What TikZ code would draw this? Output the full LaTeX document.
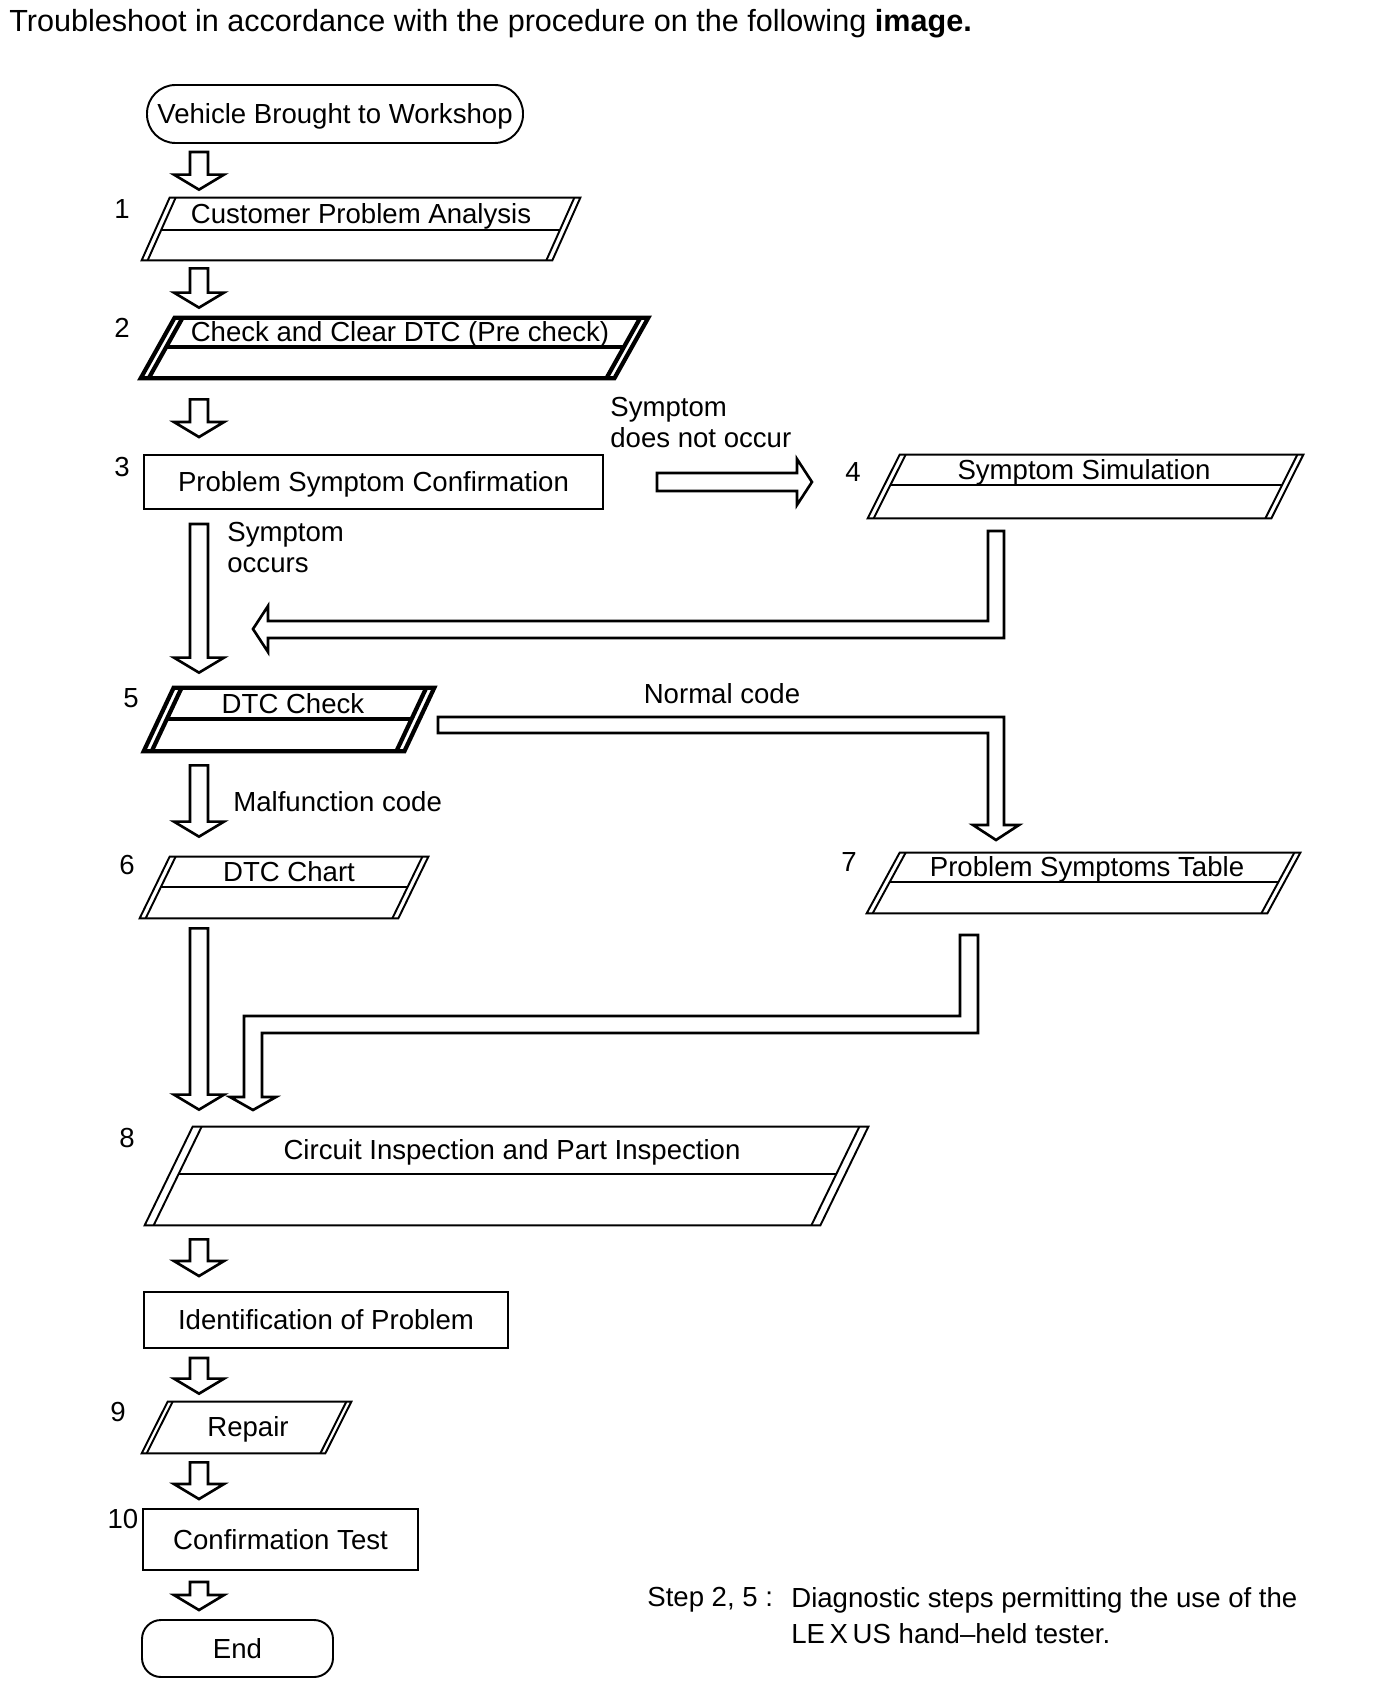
\documentclass[tikz,border=0pt]{standalone}
\usepackage{fontspec}
\setmainfont{Liberation Sans}
\usetikzlibrary{calc}
\tikzset{>=latex}

% slanted step box: outline with doubled side edges
\newcommand{\slantframe}[4]{%
  \draw[#4] (#1.south west) -- ($(#1.south east)+(-#2,0)$) -- (#1.north east) -- ($(#1.north west)+(#2,0)$) -- cycle;
  \draw[#4] ($(#1.south west)+(#3,0)$) -- ($(#1.north west)+(#2+#3,0)$);
  \draw[#4] ($(#1.south east)+(-#2-#3,0)$) -- ($(#1.north east)+(-#3,0)$);}
% rule between the inner edges, #4 = fraction from the top
\newcommand{\slantrule}[5]{%
  \draw[#5] ($(#1.north west)!#4!(#1.south west)+({#2*(1-#4)+#3},0)$) -- ($(#1.north east)!#4!(#1.south east)+({-#2*#4-#3},0)$);}
% hollow down arrow from one node to the next
\newcommand{\downblock}[4]{%
  \draw[hollow] ($(#1.south -| col)+(-9,#3)$) -- ($(#1.south -| col)+(9,#3)$)
    -- ($(#2.north -| col)+(9,-#4-15)$) -- ($(#2.north -| col)+(25,-#4-15)$)
    -- ($(#2.north -| col)+(0,-#4)$) -- ($(#2.north -| col)+(-25,-#4-15)$)
    -- ($(#2.north -| col)+(-9,-#4-15)$) -- cycle;}

\begin{document}
\begin{tikzpicture}[x=0.02cm, y=-0.02cm, line join=miter,
    every node/.style={inner sep=0pt, font=\fontsize{15.7}{17.6}\selectfont},
    lbl/.style={text height=11.2pt, text depth=0pt},
    frame/.style 2 args={rectangle, minimum width=#1*0.02cm, minimum height=#2*0.02cm},
    term/.style={draw, line width=1.1pt, lbl},
    plain/.style={draw, line width=1.1pt, lbl},
    thinbox/.style={line width=1.1pt},
    boldbox/.style={line width=2.4pt},
    hollow/.style={draw, line width=1.5pt, fill=white}]
    \fill[white] (0,0) rectangle (1392,1702);
    \useasboundingbox (0,0) rectangle (1392,1702);

    % Nodes
    \node[anchor=base west, font=\fontsize{17.4}{20}\selectfont] (title) at (9,32) {Troubleshoot in accordance with the procedure on the following \textbf{image.}};
    \node[term, frame={376}{58}, rounded corners=0.57cm] (start) at (335,114) {Vehicle Brought to Workshop};
    \node[frame={438}{62}] (s1) at (361,229) {};
    \node[lbl] (t1) at (361,214) {Customer Problem Analysis};
    \node[frame={507}{60}] (s2) at (394.5,348) {};
    \node[lbl] (t2) at (400,332) {Check and Clear DTC (Pre check)};
    \node[plain, frame={459}{54}] (s3) at (373.5,482) {Problem Symptom Confirmation};
    \node[frame={435}{63}] (s4) at (1085.5,486.5) {};
    \node[lbl] (t4) at (1084,470) {Symptom Simulation};
    \node[frame={290}{63}] (s5) at (289,719.5) {};
    \node[lbl] (t5) at (293,704) {DTC Check};
    \node[frame={288}{61}] (s6) at (284,887.5) {};
    \node[lbl] (t6) at (289,872) {DTC Chart};
    \node[frame={433}{60}] (s7) at (1083.5,883) {};
    \node[lbl] (t7) at (1087,867) {Problem Symptoms Table};
    \node[frame={723}{98}] (s8) at (506.5,1176) {};
    \node[lbl] (t8) at (512,1150) {Circuit Inspection and Part Inspection};
    \node[plain, frame={364}{56}] (id) at (326,1320) {Identification of Problem};
    \node[frame={209}{51}] (s9) at (246.5,1427.5) {};
    \node[lbl] (t9) at (248,1427) {Repair};
    \node[plain, frame={275}{61}] (s10) at (280.5,1539.5) {Confirmation Test};
    \node[term, frame={191}{57}, rounded corners=0.38cm] (end) at (237.5,1648.5) {End};

    % Step numbers
    \node[lbl] (n1) at (122,209) {1};
    \node[lbl] (n2) at (122,328) {2};
    \node[lbl] (n3) at (122,467) {3};
    \node[lbl] (n4) at (853,472) {4};
    \node[lbl] (n5) at (131,698) {5};
    \node[lbl] (n6) at (127,865) {6};
    \node[lbl] (n7) at (849,862) {7};
    \node[lbl] (n8) at (127,1138) {8};
    \node[lbl] (n9) at (118,1412) {9};
    \node[lbl] (n10) at (123,1519) {10};

    % Branch labels and note
    \node[anchor=north west, align=left] (l34) at (610,397) {Symptom\\does not occur};
    \node[anchor=north west, align=left] (l35) at (227,522) {Symptom\\occurs};
    \node[lbl] (l57) at (722,694) {Normal code};
    \node[lbl, anchor=west] (l56) at (233,802) {Malfunction code};
    \node[anchor=north west] (step) at (647,1587) {Step 2, 5 :};
    \node[anchor=north west, align=left, font=\fontsize{15.7}{20.4}\selectfont] (note) at (791,1587) {Diagnostic steps permitting the use of the\\LE\,X\,US hand--held tester.};

    % Boxes
    \slantframe{s1}{28}{6}{thinbox} \slantrule{s1}{28}{6}{0.52}{thinbox}
    \slantframe{s2}{34}{8}{boldbox} \slantrule{s2}{34}{8}{0.48}{boldbox}
    \slantframe{s4}{32}{6}{thinbox} \slantrule{s4}{32}{6}{0.476}{thinbox}
    \slantframe{s5}{30}{8}{boldbox} \slantrule{s5}{30}{8}{0.49}{boldbox}
    \slantframe{s6}{30}{6}{thinbox} \slantrule{s6}{30}{6}{0.49}{thinbox}
    \slantframe{s7}{33}{6}{thinbox} \slantrule{s7}{33}{6}{0.48}{thinbox}
    \slantframe{s8}{48}{9}{thinbox} \slantrule{s8}{48}{9}{0.48}{thinbox}
    \slantframe{s9}{26}{5}{thinbox}

    % Arrows
    \coordinate (col) at (199,0);
    \downblock{start}{s1}{8}{8}
    \downblock{s1}{s2}{8}{10}
    \downblock{s2}{s3}{21}{17}
    \downblock{s3}{s5}{14}{15}
    \downblock{s5}{s6}{14}{20}
    \downblock{s6}{s8}{10}{17}
    \downblock{s8}{id}{14}{15}
    \downblock{id}{s9}{9}{8}
    \downblock{s9}{s10}{9}{9}
    \downblock{s10}{end}{11}{9}
    \draw[hollow] ($(s3.east)+(53,-9)$) -- ($(s3.east)+(193,-9)$) -- ($(s3.east)+(193,-23)$) -- ($(s3.east)+(208,0)$)
        -- ($(s3.east)+(193,23)$) -- ($(s3.east)+(193,9)$) -- ($(s3.east)+(53,9)$) -- cycle;
    % 4 back to the main line
    \draw[hollow] (988,531) -- (1004,531) -- (1004,638) -- (268,638) -- (268,652) -- (253,629) -- (268,606) -- (268,621) -- (988,621) -- cycle;
    % 5 to 7
    \draw[hollow] (438,717) -- (1004,717) -- (1004,825) -- (1019,825) -- (996,840) -- (973,825) -- (988,825) -- (988,733) -- (438,733) -- cycle;
    % 7 to 8
    \draw[hollow] (960,935) -- (978,935) -- (978,1033) -- (262,1033) -- (262,1097) -- (276,1097) -- (253,1110) -- (230,1097) -- (244,1097) -- (244,1016) -- (960,1016) -- cycle;
\end{tikzpicture}
\end{document}
